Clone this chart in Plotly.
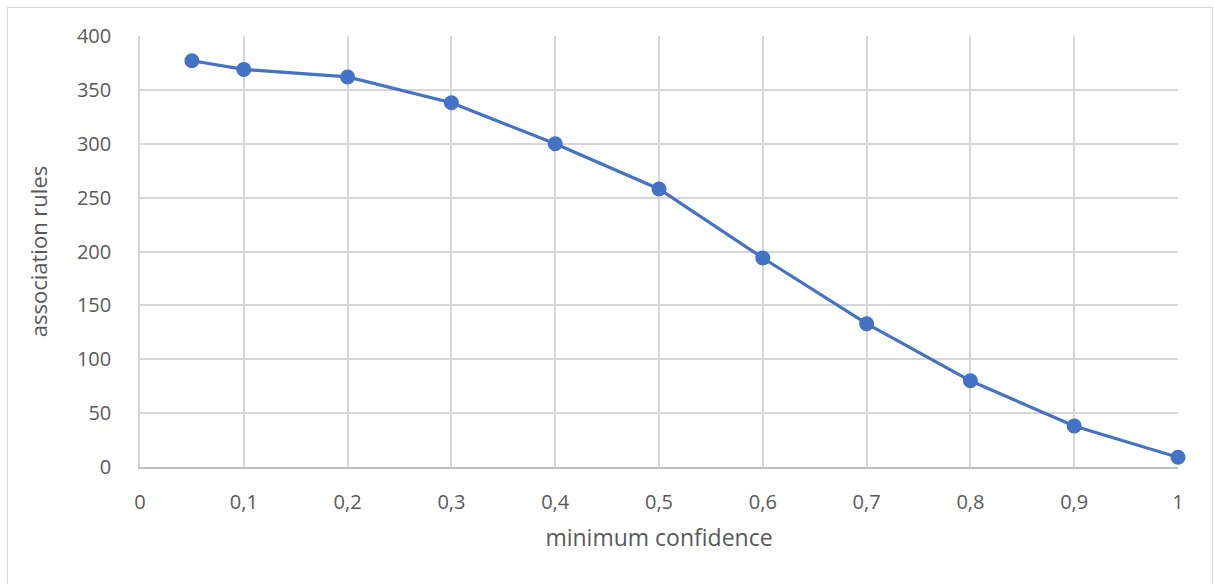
import plotly.graph_objects as go

# minimum confidence thresholds and resulting number of association rules
min_confidence = [0.05, 0.1, 0.2, 0.3, 0.4, 0.5, 0.6, 0.7, 0.8, 0.9, 1.0]
rule_counts = [377, 369, 362, 338, 300, 258, 194, 133, 80, 38, 9]

W, H = 1214, 584
L, R, T, B = 140, 36, 36, 117
pw, ph = W - L - R, H - T - B

FONT = "Open Sans"
TXT = "#595959"
GRID = "#d6d6d6"

fig = go.Figure(
    go.Scatter(
        x=min_confidence,
        y=rule_counts,
        mode="lines+markers",
        line=dict(color="#4472C4", width=3.2),
        marker=dict(color="#4472C4", size=15),
        showlegend=False,
        cliponaxis=False,
    )
)

def px_x(v):
    return (v - L) / pw

def px_y(v):
    return (H - B - v) / ph

fig.update_layout(
    width=W,
    height=H,
    margin=dict(l=L, r=R, t=T, b=B),
    paper_bgcolor="white",
    plot_bgcolor="white",
    separators=",.",
    font=dict(family=FONT, color=TXT, size=20),
    xaxis=dict(
        range=[0, 1],
        tick0=0,
        dtick=0.1,
        showgrid=True,
        gridcolor=GRID,
        gridwidth=1.5,
        zeroline=False,
        showline=True,
        linecolor="#bfbfbf",
        linewidth=1.5,
        ticks="",
        ticklabelstandoff=16,
        tickfont=dict(size=20, color=TXT),
        title=dict(text="minimum confidence", font=dict(size=23, color=TXT), standoff=16),
    ),
    yaxis=dict(
        range=[0, 400],
        tick0=0,
        dtick=50,
        showgrid=True,
        gridcolor=GRID,
        gridwidth=1.5,
        zeroline=False,
        showline=True,
        linecolor=GRID,
        linewidth=1.5,
        ticks="",
        ticklabelstandoff=23,
        tickfont=dict(size=20, color=TXT),
        title=dict(text="association rules", font=dict(size=22, color=TXT), standoff=23),
    ),
    shapes=[
        dict(
            type="rect",
            xref="paper",
            yref="paper",
            x0=px_x(7.5),
            x1=px_x(1212.5),
            y0=px_y(600),
            y1=px_y(7.5),
            line=dict(color="#d9d9d9", width=1),
            fillcolor="rgba(0,0,0,0)",
            layer="below",
        )
    ],
)

fig.write_html("out.html")
